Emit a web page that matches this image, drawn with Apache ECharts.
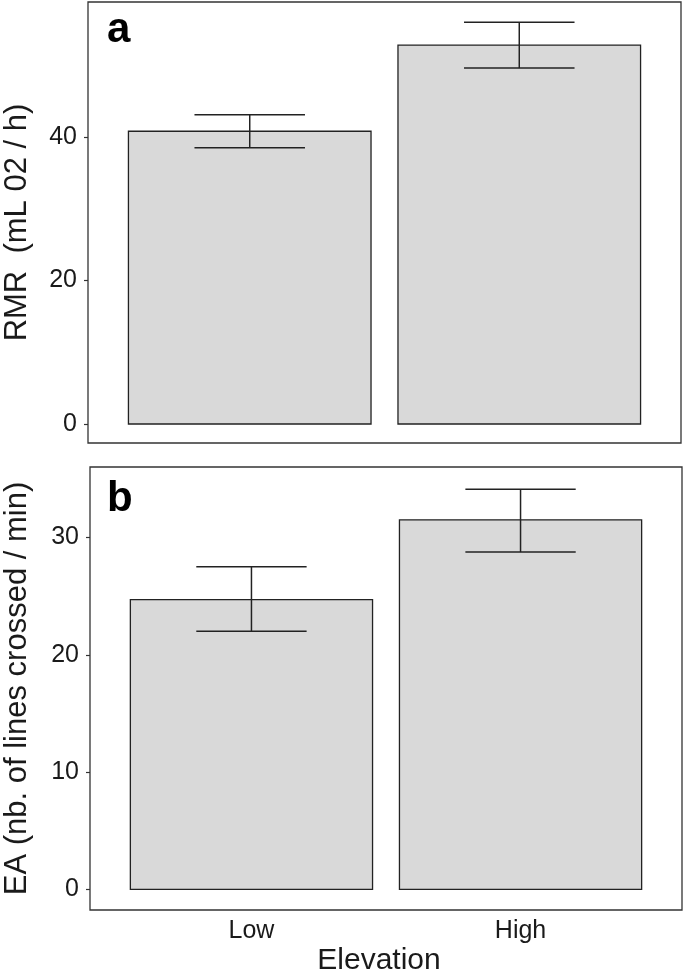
<!DOCTYPE html>
<html>
<head>
<meta charset="utf-8">
<script src="https://cdn.jsdelivr.net/npm/echarts@6/dist/echarts.min.js"></script>
<style>html,body{margin:0;padding:0;background:#fff}#c{width:685px;height:973px}</style>
</head>
<body>
<div id="c"></div>
<script>
var categories = ['Low', 'High'];
var rmrMean = [40.8, 52.8];
var rmrLow = [38.5, 49.6];
var rmrHigh = [43.1, 56.0];
var eaMean = [24.7, 31.5];
var eaLow = [22.0, 28.75];
var eaHigh = [27.5, 34.1];
var rmrTicks = [0, 20, 40];
var eaTicks = [0, 10, 20, 30];

var FONT = 'Liberation Sans, Arial, sans-serif';
var chart = echarts.init(document.getElementById('c'), null, {renderer: 'canvas'});

function barData(means) { return means.map(function (m, i) { return [i + 1, m]; }); }
function errData(lo, hi) { return lo.map(function (l, i) { return [i + 1, l, hi[i]]; }); }

function renderBar(params, api) {
  var x = api.value(0), y = api.value(1);
  var p1 = api.coord([x - 0.45, y]);
  var p2 = api.coord([x + 0.45, 0]);
  return {
    type: 'rect',
    shape: {x: p1[0], y: p1[1], width: p2[0] - p1[0], height: p2[1] - p1[1]},
    style: {fill: '#d9d9d9', stroke: '#222', lineWidth: 1.3}
  };
}
function renderErr(params, api) {
  var x = api.value(0), lo = api.value(1), hi = api.value(2);
  var a = api.coord([x, lo]), b = api.coord([x, hi]);
  var l1 = api.coord([x - 0.205, lo]), r1 = api.coord([x + 0.205, lo]);
  var l2 = api.coord([x - 0.205, hi]), r2 = api.coord([x + 0.205, hi]);
  var st = {stroke: '#222', lineWidth: 1.5};
  return {
    type: 'group',
    children: [
      {type: 'line', shape: {x1: a[0], y1: a[1], x2: b[0], y2: b[1]}, style: st},
      {type: 'line', shape: {x1: l1[0], y1: l1[1], x2: r1[0], y2: r1[1]}, style: st},
      {type: 'line', shape: {x1: l2[0], y1: l2[1], x2: r2[0], y2: r2[1]}, style: st}
    ]
  };
}

var tickLabel = {color: '#1a1a1a', fontSize: 25, fontFamily: FONT, margin: 11};

var option = {
  animation: false,
  grid: [
    {left: 88, top: 2, width: 593, height: 441, show: true, borderColor: '#333', borderWidth: 1.3, backgroundColor: '#fff', outerBoundsMode: 'none', containLabel: false},
    {left: 90, top: 467, width: 592, height: 443, show: true, borderColor: '#333', borderWidth: 1.3, backgroundColor: '#fff', outerBoundsMode: 'none', containLabel: false}
  ],
  xAxis: [
    {type: 'value', gridIndex: 0, min: 0.4, max: 2.6, axisLine: {show: false}, axisTick: {show: false}, axisLabel: {show: false}, splitLine: {show: false}},
    {type: 'value', gridIndex: 1, min: 0.4, max: 2.6, axisLine: {show: false}, axisTick: {show: false},
     splitLine: {show: false},
     axisLabel: {color: '#1a1a1a', fontSize: 25, fontFamily: FONT, margin: 9, customValues: [1, 2],
       formatter: function (v) { return categories[Math.round(v) - 1] || ''; }},
     name: 'Elevation', nameLocation: 'middle', nameGap: 36,
     nameTextStyle: {color: '#1a1a1a', fontSize: 30, fontFamily: FONT, padding: [0, 14, 0, 0]}}
  ],
  yAxis: [
    {type: 'value', gridIndex: 0, min: -2.65, max: 58.81, splitLine: {show: false},
     axisLine: {show: false},
     axisTick: {show: true, length: 4, lineStyle: {color: '#333', width: 1.2}, customValues: rmrTicks},
     axisLabel: Object.assign({customValues: rmrTicks}, tickLabel),
     name: 'RMR  (mL 02 / h)', nameLocation: 'middle', nameGap: 55,
     nameTextStyle: {color: '#1a1a1a', fontSize: 31, fontFamily: FONT}},
    {type: 'value', gridIndex: 1, min: -1.75, max: 36.0, splitLine: {show: false},
     axisLine: {show: false},
     axisTick: {show: true, length: 4, lineStyle: {color: '#333', width: 1.2}, customValues: eaTicks},
     axisLabel: Object.assign({customValues: eaTicks}, tickLabel),
     name: 'EA (nb. of lines crossed / min)', nameLocation: 'middle', nameGap: 57,
     nameTextStyle: {color: '#1a1a1a', fontSize: 31, fontFamily: FONT}}
  ],
  graphic: [
    {type: 'text', left: 107, top: 9, style: {text: 'a', font: 'bold 42px ' + FONT, fill: '#000'}},
    {type: 'text', left: 107, top: 478, style: {text: 'b', font: 'bold 42px ' + FONT, fill: '#000'}}
  ],
  series: [
    {type: 'custom', xAxisIndex: 0, yAxisIndex: 0, renderItem: renderBar, data: barData(rmrMean), encode: {x: 0, y: 1}},
    {type: 'custom', xAxisIndex: 0, yAxisIndex: 0, renderItem: renderErr, data: errData(rmrLow, rmrHigh), encode: {x: 0, y: [1, 2]}},
    {type: 'custom', xAxisIndex: 1, yAxisIndex: 1, renderItem: renderBar, data: barData(eaMean), encode: {x: 0, y: 1}},
    {type: 'custom', xAxisIndex: 1, yAxisIndex: 1, renderItem: renderErr, data: errData(eaLow, eaHigh), encode: {x: 0, y: [1, 2]}}
  ]
};
chart.setOption(option);
</script>
</body>
</html>
